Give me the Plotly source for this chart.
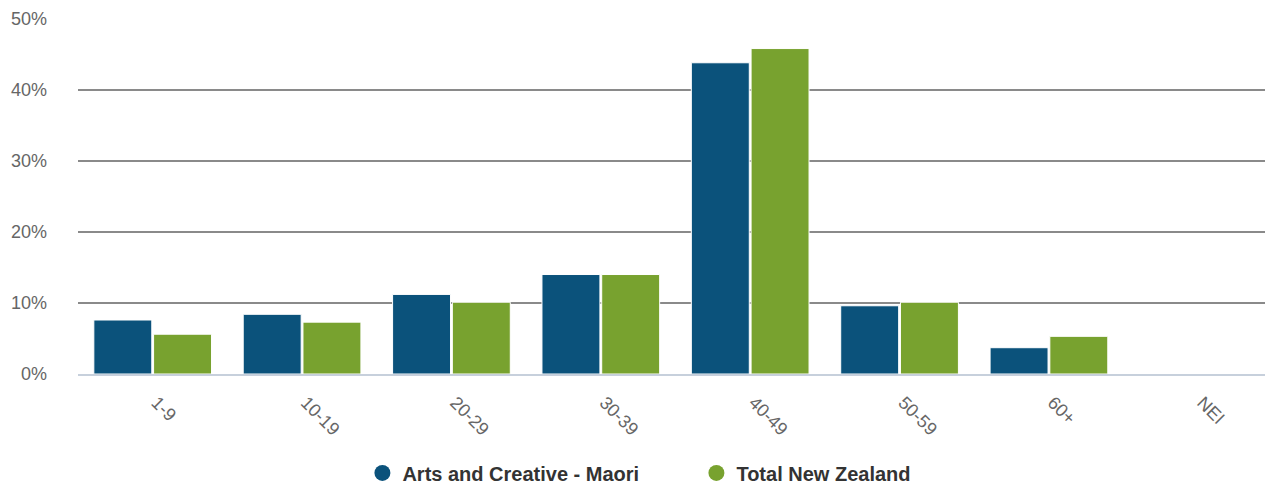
import plotly.graph_objects as go

categories = ["1-9", "10-19", "20-29", "30-39", "40-49", "50-59", "60+", "NEI"]
maori = [7.6, 8.4, 11.2, 14.0, 43.8, 9.6, 3.7, 0]
total_nz = [5.6, 7.3, 10.1, 14.0, 45.8, 10.1, 5.3, 0]
series_names = ["Arts and Creative - Maori", "Total New Zealand"]
colors = ["#0b527b", "#78a22f"]
y_ticks = [0, 10, 20, 30, 40, 50]
y_tick_labels = ["0%", "10%", "20%", "30%", "40%", "50%"]

fig = go.Figure()
for name, vals, col in zip(series_names, [maori, total_nz], colors):
    fig.add_trace(go.Bar(x=categories, y=vals, name=name, marker_color=col,
                         marker_line_color="white", marker_line_width=1,
                         showlegend=False, hovertemplate="%{y}%<extra></extra>"))
for name, col in zip(series_names, colors):
    fig.add_trace(go.Scatter(x=[None], y=[None], mode="markers", name=name,
                             marker=dict(symbol="circle", size=19, color=col)))

fig.update_layout(
    width=1273, height=500,
    margin=dict(l=70, r=8, t=10, b=134),
    paper_bgcolor="white", plot_bgcolor="white",
    barmode="group", bargap=0.2, bargroupgap=0.03,
    font=dict(family="Liberation Sans, Arial, sans-serif", color="#666666"),
    legend=dict(orientation="h", x=0.238, xanchor="left",
                y=-0.278, yanchor="middle",
                font=dict(size=20, color="#333333", family="Liberation Sans, Arial, sans-serif",
                          weight="bold"),
                itemsizing="trace", entrywidth=289, entrywidthmode="pixels"),
    xaxis=dict(tickangle=45, tickfont=dict(size=18, color="#666666"), showgrid=False,
               showline=True, linecolor="#c7d0dc", linewidth=2, ticks="",
               automargin=False, ticklabelstandoff=9, ticklabelshift=4),
    yaxis=dict(range=[0, 50.1], tickvals=y_ticks, ticktext=y_tick_labels,
               tickfont=dict(size=18, color="#666666"),
               showgrid=True, gridcolor="#8a8a8a", gridwidth=1.5, zeroline=False,
               ticklabelstandoff=30, automargin=False),
)
fig.write_html("out.html")
